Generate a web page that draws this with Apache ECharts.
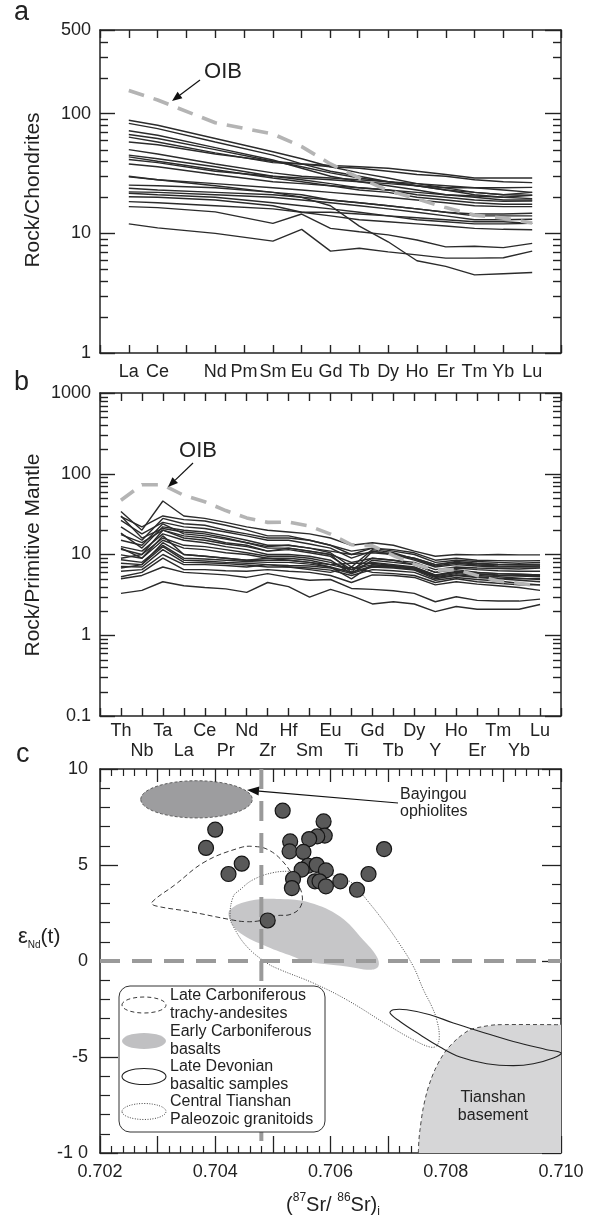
<!DOCTYPE html>
<html><head><meta charset="utf-8">
<script src="https://cdn.jsdelivr.net/npm/echarts@6/dist/echarts.min.js"></script>
<style>html,body{margin:0;padding:0;background:#fff}#c{width:592px;height:1220px}</style>
</head><body><div id="c"></div>
<script>
// ---------- Panel a: chondrite-normalised REE ----------
const REE = ['La','Ce','Pr','Nd','Pm','Sm','Eu','Gd','Tb','Dy','Ho','Er','Tm','Yb','Lu'];
const REE_HIDDEN = ['Pr'];
const OIB_REE = [156, 130, null, 84, null, 67.6, 53, 38, 29, 22.8, 19.4, 16.4, 14.2, 13.4, 12.2];
const reeSamples = [
  [88, 80, null, 62, null, 48, 42, 36, 32, 29, 26, 24, 22, 21, 20.8],
  [83, 75, null, 58, null, 45, 38, 33, 30, 27, 25, 23, 21, 20, 19.5],
  [67, 62, null, 50, null, 40, 36, 32, 29, 27, 25, 23, 22, 21, 22],
  [63.6, 58, null, 47, null, 39, 38, 36, 35, 33, 31, 30, 28, 27, 26.5],
  [58, 55, null, 46, null, 40, 38, 37, 36, 35, 33, 31, 29, 29, 29],
  [45, 42, null, 36, null, 30, 28, 26, 24, 23, 21, 20, 19, 18.5, 18.6],
  [43.5, 40, null, 34, null, 29, 27, 25, 23, 22, 20, 19, 18, 17.5, 17.5],
  [41.4, 39, null, 33, null, 30, 29, 28, 27, 26, 25, 24, 24, 24, 24.2],
  [29.6, 28, null, 26, null, 24, 23, 22, 21, 20, 19, 18, 17, 16.7, 16.7],
  [25.3, 25, null, 24, null, 22, 21, 19, 18, 17, 16, 15, 14.5, 14.5, 14.7],
  [23.8, 23, null, 22, null, 21, 20, 19, 18, 17, 16, 15, 14, 14, 14],
  [22.2, 22, null, 21, null, 20, 19, 18, 17, 16, 15, 14, 13, 13, 13.1],
  [21.6, 21, null, 20, null, 18, 17, 16, 15, 14, 13, 12.5, 12, 12, 12.1],
  [20.2, 20, null, 19, null, 17, 15, 14, 13, 12.5, 12, 11.5, 11, 10.8, 10.7],
  [18.4, 18, null, 17, null, 16, 15, 15, 14.5, 14, 13.5, 13, 12.5, 12.5, 12.1],
  [30, 28, null, 25, null, 22, 20, 17, 11.5, 8.5, 5.9, 5.3, 4.5, 4.6, 4.7],
  [16.7, 16.4, null, 15.1, null, 12.1, 14.5, 11.0, 10.3, 9.7, 8.8, 7.7, 7.8, 7.6, 8.25],
  [12.0, 11.1, null, 10.0, null, 8.6, 10.8, 7.1, 7.5, 7.0, 6.6, 6.2, 6.2, 6.25, 7.1],
  [50, 46, null, 38, null, 32, 30, 29, 28, 27, 26, 25, 24, 23, 22],
  [38, 36, null, 31, null, 27, 26, 25, 24, 23, 22, 21, 20.5, 20, 20.8],
  [72, 66, null, 52, null, 41, 35, 30, 27, 25, 23, 21, 20, 19, 19]
];
const REE_AXIS_LABELS = ['1', '10', '100', '500'];
const REE_MINOR_TICKS = [2, 3, 4, 5, 6, 7, 8, 9, 20, 30, 40, 50, 60, 70, 80, 90, 200, 300, 400];

// ---------- Panel b: primitive-mantle-normalised spider ----------
const SPIDER = ['Th','Nb','Ta','La','Ce','Pr','Nd','Zr','Hf','Sm','Eu','Ti','Gd','Tb','Dy','Y','Ho','Er','Tm','Yb','Lu'];
const OIB_SPIDER = [47, 73, 73, 54, 45, 35, 28.4, 25, 25.2, 22.5, 17.9, 13.2, 12.8, 9.7, 7.6, 6.4, 6.5, 5.5, 4.7, 4.4, 4.05];
const spiderSamples = [
  [34, 20, 46, 30, 28, 25, 22, 20, 19, 18, 16, 13, 14, 13, 11, 9.5, 10, 9.9, 10, 9.9, 9.9],
  [29.5, 22, 30, 27, 26, 23, 20, 17, 17, 15, 13, 11, 12, 11.5, 10.5, 8.5, 9, 8.5, 8.4, 8.3, 8.4],
  [26.5, 18, 25, 22, 21, 19, 17, 15, 15, 13.5, 12, 9, 11, 10, 9, 7.5, 8, 7.6, 7.5, 7.4, 7.4],
  [18.4, 12, 22, 20, 19, 17, 15, 13, 13, 12, 11, 10, 10.5, 10, 9, 7.5, 8.2, 7.8, 7.6, 7.5, 7.6],
  [17.6, 14, 20, 16, 15, 13.5, 12.5, 11, 11.5, 10.5, 9.5, 6.5, 9, 8.5, 8, 6.5, 7, 6.8, 6.7, 6.6, 6.8],
  [12.5, 11, 18, 15, 14, 12.5, 11.5, 10, 10, 9.5, 8.5, 5.8, 8.5, 8, 7.5, 6, 6.8, 6.5, 6.3, 6.2, 6.2],
  [11.6, 10, 16, 13, 12.5, 11.5, 10.5, 9.5, 9.5, 9, 8, 6.5, 8, 7.5, 7, 5.6, 6.2, 6, 5.8, 5.7, 5.6],
  [9.9, 9, 15, 12, 11.5, 10.5, 10, 9, 9, 8.5, 7.5, 7.8, 7.8, 7.3, 6.8, 5.5, 6, 5.7, 5.5, 5.4, 5.3],
  [8.6, 8, 13, 9, 8.8, 8.5, 8.2, 8, 8, 7.6, 7, 6, 7.2, 7, 6.6, 5.3, 5.8, 5.5, 5.3, 5.1, 4.9],
  [7.8, 7.5, 12.5, 8.5, 8.3, 8, 7.8, 7.5, 7.3, 7.2, 6.8, 5.8, 7, 6.8, 6.4, 5, 5.5, 5.2, 5, 4.8, 4.6],
  [7.1, 7, 11.5, 8, 7.9, 7.7, 7.4, 7, 7, 6.8, 6.4, 5.5, 6.5, 6.3, 6, 4.8, 5.2, 4.9, 4.7, 4.4, 4.2],
  [6.2, 6.5, 10, 7.5, 7.5, 7.3, 7, 7.5, 7, 6.5, 6, 7, 6, 5.8, 5.5, 4.5, 5, 4.6, 4.4, 4.2, 4.2],
  [5.3, 6, 9, 6.5, 6.5, 6.3, 6.2, 6.5, 6.2, 6, 5.5, 4.5, 5.6, 5.5, 5.2, 4.2, 4.6, 4.3, 4.1, 3.9, 3.6],
  [3.3, 3.6, 4.6, 4.1, 3.9, 3.75, 3.4, 4.5, 4.0, 2.96, 3.7, 3.1, 2.44, 2.6, 2.44, 1.96, 2.27, 2.1, 2.1, 2.1, 2.4],
  [5, 5.5, 7, 6, 5.8, 5.6, 5.2, 5.8, 5.2, 4.8, 4.9, 3.8, 3.7, 3.56, 3.3, 2.6, 3.0, 2.7, 2.65, 2.65, 2.8],
  [22, 15, 28, 24, 23, 20, 18, 16, 16, 15, 13, 10, 12, 11, 10, 8, 8.5, 8.2, 8, 7.8, 8],
  [9, 10, 20, 17, 16, 14, 13, 11, 12, 11, 10, 6, 11, 10, 8.5, 7, 7.5, 7.2, 7, 7, 7],
  [6.8, 7.5, 14, 10, 9.5, 9, 8.5, 8.5, 8.5, 8, 7.5, 6.5, 7.5, 7.2, 6.8, 5.5, 6, 5.8, 5.6, 5.5, 5.5],
  [15, 13, 24, 18, 17, 15.5, 14, 12.5, 13, 12, 10.5, 7, 11.5, 10.5, 8.8, 7.2, 7.8, 7.4, 7.2, 7.1, 7.2],
  [12, 9, 17, 10, 9.5, 9, 8.5, 9, 8.5, 8, 7, 5, 7.5, 7, 6.5, 5.2, 5.6, 5.3, 5.1, 5, 5],
  [30, 16, 21, 19, 18, 16, 14, 12, 12, 11, 10, 8, 9, 8.5, 7.5, 6, 6.5, 6, 5.8, 5.7, 5.6]
];
const SPIDER_AXIS_LABELS = ['0.1', '1', '10', '100', '1000'];
const SPIDER_MINOR_TICKS = [0.2, 0.3, 0.4, 0.5, 0.6, 0.7, 0.8, 0.9, 2, 3, 4, 5, 6, 7, 8, 9,
  20, 30, 40, 50, 60, 70, 80, 90, 200, 300, 400, 500, 600, 700, 800, 900];

// ---------- Panel c: Sr-Nd isotopes ----------
const srNdSamples = [
  [0.70517,7.83],[0.70400,6.84],[0.70384,5.89],[0.70446,5.07],[0.70423,4.53],[0.70491,2.11],
  [0.70530,6.23],[0.70529,5.71],[0.70588,7.27],[0.70590,6.53],[0.70577,6.49],[0.70563,6.35],
  [0.70553,5.68],[0.70693,5.83],[0.70561,4.96],[0.70576,5.01],[0.70550,4.76],[0.70592,4.72],
  [0.70535,4.27],[0.70533,3.80],[0.70573,4.15],[0.70581,4.15],[0.70592,3.89],[0.70617,4.15],
  [0.70666,4.53],[0.70646,3.71]
];
const bayingouEllipse = {cx: 0.703675, cy: 8.42, rx: 0.000968, ry: 0.97};
const trachyAndesites = [
  [0.702897,3.05],[0.703302,3.97],[0.703822,5.17],[0.704430,5.90],[0.704655,5.97],[0.704915,5.80],
  [0.705176,5.17],[0.705385,4.24],[0.705506,3.46],[0.705471,2.78],[0.705297,2.42],[0.705066,2.36],
  [0.704777,2.10],[0.704516,2.05],[0.704256,2.16],[0.703562,2.57],[0.702954,2.88]
];
const earlyCarbBasalts = [
  [0.704256,2.67],[0.704603,3.14],[0.705124,3.23],[0.705644,3.04],[0.706165,2.32],[0.706564,1.11],
  [0.706802,0.24],[0.706830,-0.28],[0.706686,-0.45],[0.706281,-0.28],[0.705587,-0.02],[0.705349,0.24],
  [0.704893,0.76],[0.704430,1.46],[0.704256,2.15]
];
const tianshanGranitoids = [
  [0.704256,2.32],[0.704313,3.36],[0.704430,3.71],[0.704655,4.23],[0.705002,4.60],[0.705349,4.67],
  [0.705818,4.60],[0.706281,4.23],[0.706455,3.82],[0.706628,3.19],[0.706859,2.32],[0.707149,1.11],
  [0.707437,-0.28],[0.707611,-1.49],[0.707756,-2.36],[0.707843,-3.06],[0.707888,-3.93],[0.707843,-4.41],
  [0.707727,-4.48],[0.707437,-4.10],[0.707033,-3.41],[0.706281,-2.02],[0.705702,-1.15],[0.705124,-0.45],
  [0.704893,-0.10],[0.704546,0.76],[0.704313,1.80]
];
const lateDevonian = [
  [0.707033,-2.71],[0.707090,-2.54],[0.707323,-2.54],[0.707727,-2.80],[0.708131,-3.23],[0.708595,-3.67],
  [0.709173,-4.19],[0.709752,-4.62],[0.710,-4.79],[0.709867,-5.05],[0.709520,-5.35],[0.709173,-5.45],
  [0.708711,-5.35],[0.708248,-5.00],[0.707900,-4.48],[0.707553,-3.84],[0.707206,-3.15]
];
const basementEdge = [
  [0.707524,-10],[0.707535,-9.3],[0.707553,-8.79],[0.707600,-7.8],[0.707670,-6.86],[0.707740,-6.2],
  [0.707813,-5.66],[0.707910,-5.1],[0.708017,-4.62],[0.708200,-4.05],[0.708421,-3.58],[0.708640,-3.42],
  [0.708884,-3.32],[0.710,-3.32]
];
const basementCorners = [[0.710,-10]];
const refSr = 0.7048;
const refNd = 0;
const refSrLine = [[refSr, 10], [refSr, -9.4]];
const refNdLine = [[0.702, refNd], [0.710, refNd]];

// ---------- layout ----------
const GRID_A = {left: 100, top: 30, width: 461, height: 323};
const GRID_B = {left: 100, top: 393, width: 461, height: 323};
const GRID_C = {left: 100, top: 769, width: 461, height: 384};

// ---------- helpers ----------
const FONT = "'Liberation Sans', Arial, Helvetica, sans-serif";
const AX = '#222';
const L10 = Math.log10;
const lineStyleAx = {color: AX, width: 1.5};
const tickStyle = {color: AX, width: 1.4};
const TICK_FS = 18;

function pairs(arr) {
  return arr.map((v, i) => v == null ? null : [i + 1, v]).filter(Boolean);
}
function logLabelFmt(v) {
  const r = Math.pow(10, v);
  return r < 1 ? r.toFixed(1) : String(Math.round(r));
}
function logYAxes(grid, minV, maxV, labels) {
  const mn = L10(minV), mx = L10(maxV);
  const base = {gridIndex: grid, type: 'value', min: mn, max: mx, interval: 1, splitLine: {show: false}};
  return [
    {gridIndex: grid, type: 'log', logBase: 10, min: minV, max: maxV, show: false},
    Object.assign({}, base, {position: 'left', axisLine: {show: true, onZero: false, lineStyle: lineStyleAx},
      axisTick: {show: true, inside: true, length: 15, lineStyle: tickStyle},
      axisLabel: {show: true, customValues: labels.map(Number).map(L10), formatter: logLabelFmt, fontSize: TICK_FS, color: '#222', fontFamily: FONT, margin: 9}}),
    Object.assign({}, base, {position: 'right', axisLine: {show: true, onZero: false, lineStyle: lineStyleAx},
      axisTick: {show: true, inside: true, length: 16, lineStyle: tickStyle},
      axisLabel: {show: false}})
  ];
}
function arrow(x1, y1, x2, y2, len, hw) {
  const dx = x2 - x1, dy = y2 - y1, d = Math.hypot(dx, dy);
  const ux = dx / d, uy = dy / d;
  const bx = x2 - ux * len, by = y2 - uy * len;
  return [
    {type: 'line', z: 50, shape: {x1: x1, y1: y1, x2: bx, y2: by}, style: {stroke: '#111', lineWidth: 1.2}},
    {type: 'polygon', z: 50, shape: {points: [[x2, y2], [bx - uy * hw, by + ux * hw], [bx + uy * hw, by - ux * hw]]}, style: {fill: '#111'}}
  ];
}
function txt(x, y, text, size, align, vAlign, extra) {
  return Object.assign({type: 'text', z: 60, x: x, y: y,
    style: {text: text, fill: '#222', font: size + 'px ' + FONT, textAlign: align, align: align,
      textVerticalAlign: vAlign, verticalAlign: vAlign}}, extra || {});
}

// ---------- axes ----------
const reeTickIdx = REE.map((n, i) => i + 1).filter((v, i) => REE_HIDDEN.indexOf(REE[i]) < 0);
const spiderOdd = SPIDER.map((n, i) => i + 1).filter(i => i % 2 === 1);
const spiderEven = SPIDER.map((n, i) => i + 1).filter(i => i % 2 === 0);

function idxXAxis(grid, n, pos, labelOpt) {
  return {gridIndex: grid, type: 'value', min: 0, max: n + 1, interval: 1, position: pos, splitLine: {show: false},
    axisLine: {onZero: false, lineStyle: lineStyleAx},
    axisTick: {show: true, inside: true, length: 8, lineStyle: tickStyle},
    axisLabel: labelOpt || {show: false}};
}
const xAxes = [
  idxXAxis(0, REE.length, 'bottom', {customValues: reeTickIdx, formatter: v => REE[Math.round(v) - 1], fontSize: TICK_FS,
    color: '#222', fontFamily: FONT, margin: 10, showMinLabel: true, showMaxLabel: true, hideOverlap: false}),
  idxXAxis(0, REE.length, 'top'),
  idxXAxis(1, SPIDER.length, 'bottom', {customValues: spiderOdd, formatter: v => SPIDER[Math.round(v) - 1],
    fontSize: TICK_FS, color: '#222', fontFamily: FONT, margin: 6, showMinLabel: true, showMaxLabel: true, hideOverlap: false}),
  idxXAxis(1, SPIDER.length, 'top'),
  {gridIndex: 2, type: 'value', min: 0.702, max: 0.710, interval: 0.001, position: 'bottom', splitLine: {show: false},
    axisLine: {onZero: false, lineStyle: lineStyleAx},
    axisTick: {show: true, inside: true, length: 17, lineStyle: {color: AX, width: 1.3}},
    minorTick: {show: true, splitNumber: 5, length: 7, lineStyle: {color: AX, width: 1.2}},
    axisLabel: {formatter: v => (Math.round(v * 1000) % 2 === 0 ? v.toFixed(3) : ''), fontSize: TICK_FS, color: '#222', fontFamily: FONT, margin: 10}},
  {gridIndex: 2, type: 'value', min: 0.702, max: 0.710, interval: 0.001, position: 'top', splitLine: {show: false},
    axisLine: {onZero: false, lineStyle: lineStyleAx},
    axisTick: {show: true, inside: true, length: 13, lineStyle: {color: AX, width: 1.3}},
    minorTick: {show: true, splitNumber: 5, length: 7, lineStyle: {color: AX, width: 1.2}},
    axisLabel: {show: false}},
  // second label row of panel b (even positions)
  {gridIndex: 1, type: 'value', min: 0, max: SPIDER.length + 1, position: 'bottom', splitLine: {show: false},
    axisLine: {show: false, onZero: false}, axisTick: {show: false},
    axisLabel: {customValues: spiderEven, formatter: v => SPIDER[Math.round(v) - 1], fontSize: TICK_FS, color: '#222',
      fontFamily: FONT, margin: 26, showMinLabel: true, showMaxLabel: true, hideOverlap: false}}
];

const yAxes = [].concat(
  logYAxes(0, 1, 500, REE_AXIS_LABELS),
  logYAxes(1, 0.1, 1000, SPIDER_AXIS_LABELS),
  [
    {gridIndex: 2, type: 'value', min: -10, max: 10, interval: 5, position: 'left', splitLine: {show: false},
      axisLine: {onZero: false, lineStyle: lineStyleAx},
      axisTick: {show: true, inside: true, length: 18, lineStyle: {color: AX, width: 1.3}},
      minorTick: {show: true, splitNumber: 5, length: 10, lineStyle: {color: AX, width: 1.2}},
      axisLabel: {formatter: v => (v === -10 ? '-1 0' : String(v)), fontSize: TICK_FS, color: '#222', fontFamily: FONT, margin: 12}},
    {gridIndex: 2, type: 'value', min: -10, max: 10, interval: 5, position: 'right', splitLine: {show: false},
      axisLine: {onZero: false, lineStyle: lineStyleAx},
      axisTick: {show: true, inside: true, length: 19, lineStyle: {color: AX, width: 1.3}},
      minorTick: {show: true, splitNumber: 5, length: 9, lineStyle: {color: AX, width: 1.2}},
      axisLabel: {show: false}}
  ]
);
const Y_A = 0, Y_B = 3, Y_C = 6;

// ---------- series ----------
const series = [];
reeSamples.forEach(s => series.push({type: 'line', xAxisIndex: 0, yAxisIndex: Y_A, data: pairs(s), symbol: 'none',
  lineStyle: {color: '#2b2b2b', width: 1.4}, silent: true, z: 2}));
series.push({type: 'line', xAxisIndex: 0, yAxisIndex: Y_A, data: pairs(OIB_REE), symbol: 'none',
  lineStyle: {color: '#b4b4b4', width: 3.6, type: [16, 10]}, silent: true, z: 4});
spiderSamples.forEach(s => series.push({type: 'line', xAxisIndex: 2, yAxisIndex: Y_B, data: pairs(s), symbol: 'none',
  lineStyle: {color: '#2b2b2b', width: 1.4}, silent: true, z: 2}));
series.push({type: 'line', xAxisIndex: 2, yAxisIndex: Y_B, data: pairs(OIB_SPIDER), symbol: 'none',
  lineStyle: {color: '#b4b4b4', width: 3.6, type: [16, 10]}, silent: true, z: 4});

function shapeSeries(points, style, opts) {
  opts = opts || {};
  return {type: 'custom', coordinateSystem: 'cartesian2d', xAxisIndex: 4, yAxisIndex: Y_C, data: points,
    encode: {x: 0, y: 1}, silent: true, z: opts.z || 1,
    renderItem: function (params, api) {
      if (params.dataIndex !== 0) return null;
      const pts = points.map(p => api.coord(p));
      return {type: opts.open ? 'polyline' : 'polygon',
        shape: {points: pts, smooth: opts.smooth == null ? 0.4 : opts.smooth},
        style: style};
    }};
}
series.push(shapeSeries(basementEdge.concat(basementCorners), {fill: '#d6d6d7', stroke: null}, {smooth: 0, z: 1}));
series.push(shapeSeries(basementEdge, {fill: null, stroke: '#333', lineWidth: 0.9, lineDash: [4, 3]}, {open: true, smooth: 0.3, z: 3}));
series.push(shapeSeries(earlyCarbBasalts, {fill: '#c6c6c8', stroke: null}, {smooth: 0.4, z: 1}));
series.push({type: 'custom', coordinateSystem: 'cartesian2d', xAxisIndex: 4, yAxisIndex: Y_C,
  data: [[bayingouEllipse.cx, bayingouEllipse.cy]], encode: {x: 0, y: 1}, silent: true, z: 1,
  renderItem: function (params, api) {
    const c = api.coord([bayingouEllipse.cx, bayingouEllipse.cy]);
    const sz = api.size([bayingouEllipse.rx, bayingouEllipse.ry]);
    return {type: 'ellipse', shape: {cx: c[0], cy: c[1], rx: sz[0], ry: sz[1]},
      style: {fill: '#9d9d9f', stroke: '#444', lineWidth: 0.8, lineDash: [3, 2]}};
  }});
series.push(shapeSeries(trachyAndesites, {fill: null, stroke: '#222', lineWidth: 0.9, lineDash: [5, 3]}, {smooth: 0.4, z: 3}));
series.push(shapeSeries(tianshanGranitoids, {fill: null, stroke: '#333', lineWidth: 0.9, lineDash: [1, 1.5]}, {smooth: 0.4, z: 3}));
series.push(shapeSeries(lateDevonian, {fill: null, stroke: '#222', lineWidth: 1.1}, {smooth: 0.4, z: 3}));
series.push({type: 'line', xAxisIndex: 4, yAxisIndex: Y_C, data: refSrLine, symbol: 'none', silent: true, z: 4,
  lineStyle: {color: '#9a9a9a', width: 4, type: [20, 12]}});
series.push({type: 'line', xAxisIndex: 4, yAxisIndex: Y_C, data: refNdLine, symbol: 'none', silent: true, z: 4,
  lineStyle: {color: '#9a9a9a', width: 4, type: [20, 12]}});
series.push({type: 'scatter', xAxisIndex: 4, yAxisIndex: Y_C, data: srNdSamples, symbol: 'circle', symbolSize: 15,
  itemStyle: {color: '#595959', borderColor: '#151515', borderWidth: 1.2, opacity: 1}, silent: true, z: 6});

// minor (2..9 x decade) ticks of the log panels, positioned by the log axis
function minorTickSeries(xi, yi, xMax, vals) {
  return {type: 'custom', coordinateSystem: 'cartesian2d', xAxisIndex: xi, yAxisIndex: yi,
    data: vals.map(v => [xMax / 2, v]), encode: {x: 0, y: 1}, silent: true, z: 20, clip: false,
    renderItem: function (params, api) {
      const v = api.value(1);
      const pL = api.coord([0, v]), pR = api.coord([xMax, v]);
      const y = Math.round(pL[1]) + 0.5;
      return {type: 'group', children: [
        {type: 'line', shape: {x1: pL[0], y1: y, x2: pL[0] + 8, y2: y}, style: {stroke: AX, lineWidth: 1.4}},
        {type: 'line', shape: {x1: pR[0] - 8, y1: y, x2: pR[0], y2: y}, style: {stroke: AX, lineWidth: 1.4}}
      ]};
    }};
}
series.push(minorTickSeries(0, Y_A, REE.length + 1, REE_MINOR_TICKS));
series.push(minorTickSeries(2, Y_B, SPIDER.length + 1, SPIDER_MINOR_TICKS));

// ---------- annotations ----------
const graphics = [];
graphics.push(txt(14, 26, 'a', 27, 'left', 'bottom'));
graphics.push(txt(14, 396, 'b', 27, 'left', 'bottom'));
graphics.push(txt(16, 768, 'c', 27, 'left', 'bottom'));
graphics.push(txt(33, 190, 'Rock/Chondrites', 21, 'center', 'middle', {rotation: Math.PI / 2}));
graphics.push(txt(33, 555, 'Rock/Primitive Mantle', 21, 'center', 'middle', {rotation: Math.PI / 2}));
graphics.push(txt(223, 72, 'OIB', 22, 'center', 'middle'));
graphics.push.apply(graphics, arrow(200, 80, 172, 101, 10, 4));
graphics.push(txt(198, 451, 'OIB', 22, 'center', 'middle'));
graphics.push.apply(graphics, arrow(193, 463, 168, 487, 10, 4));
graphics.push(txt(400, 795, 'Bayingou', 16, 'left', 'middle'));
graphics.push(txt(400, 812, 'ophiolites', 16, 'left', 'middle'));
graphics.push.apply(graphics, arrow(398, 803, 247, 790, 12, 4.5));
graphics.push(txt(493, 1098, 'Tianshan', 16, 'center', 'middle'));
graphics.push(txt(493, 1116, 'basement', 16, 'center', 'middle'));
graphics.push({type: 'text', z: 60, x: 18, y: 937, style: {
  text: '{e|ε}{s|Nd}{n|(t)}', textVerticalAlign: 'middle', verticalAlign: 'middle', textAlign: 'left', align: 'left',
  rich: {e: {fontSize: 22, fontFamily: FONT, fill: '#222', color: '#222', lineHeight: 26},
    s: {fontSize: 10, fontFamily: FONT, fill: '#222', color: '#222', verticalAlign: 'bottom', lineHeight: 18},
    n: {fontSize: 21, fontFamily: FONT, fill: '#222', color: '#222', lineHeight: 26}}}});
graphics.push({type: 'text', z: 60, x: 333, y: 1205, style: {
  text: '{n|(}{p|87}{n|Sr/ }{p|86}{n|Sr)}{b|i}', textVerticalAlign: 'middle', verticalAlign: 'middle', textAlign: 'center', align: 'center',
  rich: {n: {fontSize: 20, fontFamily: FONT, fill: '#222', color: '#222', lineHeight: 26},
    p: {fontSize: 12, fontFamily: FONT, fill: '#222', color: '#222', verticalAlign: 'top', lineHeight: 14},
    b: {fontSize: 12, fontFamily: FONT, fill: '#222', color: '#222', verticalAlign: 'bottom', lineHeight: 8}}}});
const legendItems = [
  {cy: 1005, lines: ['Late Carboniferous', 'trachy-andesites'], style: {fill: '#fff', stroke: '#222', lineWidth: 0.9, lineDash: [4, 3]}},
  {cy: 1041, lines: ['Early Carboniferous', 'basalts'], style: {fill: '#c0c0c2', stroke: null}},
  {cy: 1076.5, lines: ['Late Devonian', 'basaltic samples'], style: {fill: '#fff', stroke: '#222', lineWidth: 1.1}},
  {cy: 1111.5, lines: ['Central Tianshan', 'Paleozoic granitoids'], style: {fill: '#fff', stroke: '#333', lineWidth: 0.9, lineDash: [1, 1.5]}}
];
graphics.push({type: 'rect', z: 70, shape: {x: 119, y: 986, width: 206, height: 146, r: 11}, style: {fill: '#fff', stroke: '#333', lineWidth: 1}});
legendItems.forEach(it => {
  graphics.push({type: 'ellipse', z: 71, shape: {cx: 144, cy: it.cy, rx: 22, ry: 8}, style: it.style});
  graphics.push(txt(170, it.cy - 9.5, it.lines[0], 16, 'left', 'middle', {z: 72}));
  graphics.push(txt(170, it.cy + 8.5, it.lines[1], 16, 'left', 'middle', {z: 72}));
});

const chart = echarts.init(document.getElementById('c'), null, {renderer: 'canvas'});
chart.setOption({
  animation: false,
  backgroundColor: '#fff',
  grid: [GRID_A, GRID_B, GRID_C],
  xAxis: xAxes,
  yAxis: yAxes,
  series: series,
  graphic: {elements: graphics}
});
</script></body></html>
